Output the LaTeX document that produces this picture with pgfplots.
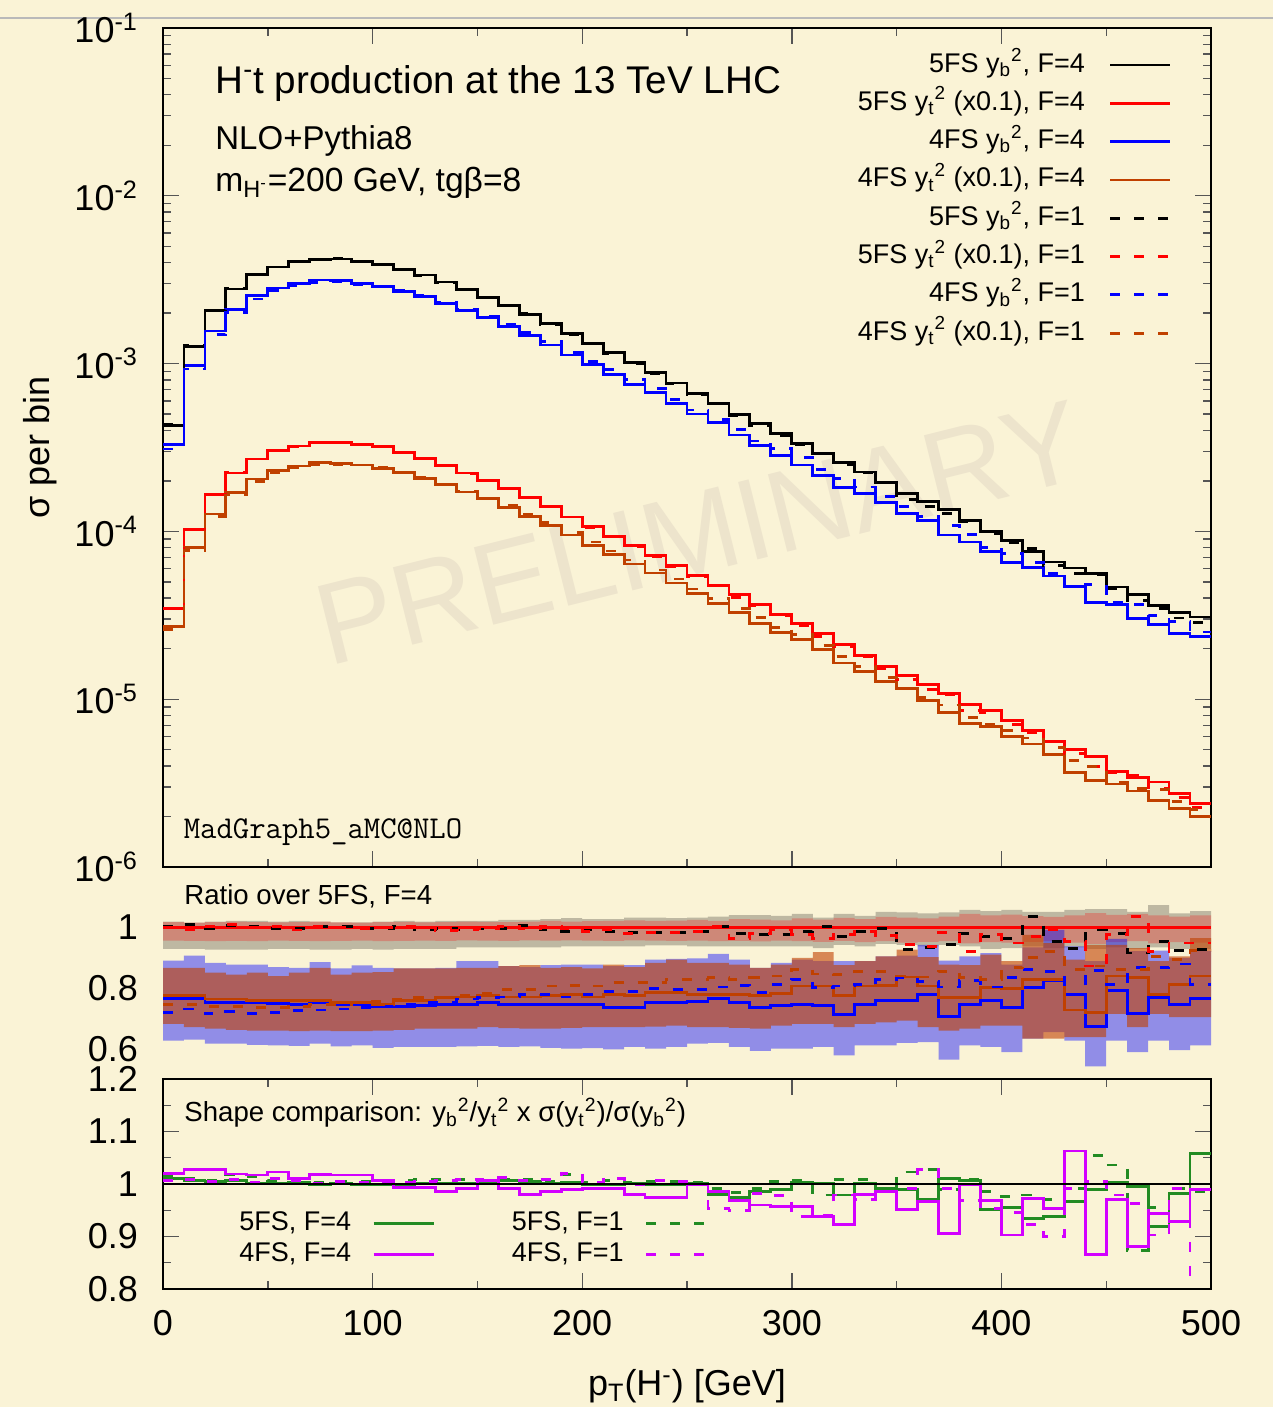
\documentclass[border=0pt]{standalone}
\usepackage{fontspec}
\setmainfont{Liberation Sans}
\usepackage{pgfplots}
\usepackage{pgfplotstable}
\pgfplotsset{compat=1.18}
\usepgfplotslibrary{fillbetween}
\tikzset{fill between/on layer=main}

\definecolor{bg}{RGB}{250,243,214}
\definecolor{wm}{RGB}{237,228,204}
\definecolor{cbrown}{RGB}{192,64,0}
\definecolor{cgreen}{RGB}{34,139,34}
\definecolor{cmag}{RGB}{210,0,255}
\definecolor{tk}{RGB}{85,85,85}

\newcommand{\sub}[1]{\textsubscript{#1}}
\newcommand{\sps}[1]{\textsuperscript{#1}}

% 10 GeV bins, x = left edge; last row repeats the 490-500 bin to close the steps
% b5 = 5FS yb^2 F=4, t5 = 5FS yt^2 (x0.1) F=4, r* = ratios over 5FS F=4
\pgfplotstableread{
x   b5      t5      rb4   rt4   rb5d  rt5d  rb4d  rt4d
0   4.30e-4 3.48e-5 0.766 0.775 1.003 1.000 0.720 0.745
10  1.27e-3 1.03e-4 0.766 0.777 1.011 0.992 0.731 0.745
20  2.08e-3 1.66e-4 0.753 0.764 0.998 1.003 0.715 0.740
30  2.78e-3 2.23e-4 0.753 0.764 1.007 1.009 0.722 0.739
40  3.38e-3 2.70e-4 0.753 0.760 1.003 1.000 0.717 0.736
50  3.77e-3 3.05e-4 0.749 0.758 0.998 1.003 0.720 0.736
60  4.04e-3 3.23e-4 0.745 0.760 0.998 0.992 0.725 0.740
70  4.18e-3 3.37e-4 0.753 0.760 1.003 1.003 0.728 0.745
80  4.20e-3 3.38e-4 0.747 0.753 1.003 1.000 0.731 0.745
90  4.04e-3 3.30e-4 0.745 0.753 0.998 0.998 0.736 0.753
100 3.90e-3 3.19e-4 0.739 0.747 0.998 1.000 0.739 0.755
110 3.64e-3 2.96e-4 0.739 0.758 1.005 1.003 0.747 0.764
120 3.37e-3 2.73e-4 0.742 0.760 0.992 1.000 0.753 0.769
130 3.06e-3 2.48e-4 0.745 0.769 0.998 0.989 0.753 0.769
140 2.77e-3 2.23e-4 0.745 0.771 0.992 0.992 0.764 0.775
150 2.49e-3 2.02e-4 0.753 0.775 0.995 0.998 0.769 0.782
160 2.23e-3 1.80e-4 0.745 0.771 0.998 1.003 0.771 0.796
170 1.97e-3 1.59e-4 0.745 0.771 1.007 0.995 0.780 0.796
180 1.73e-3 1.40e-4 0.747 0.777 0.992 1.003 0.780 0.807
190 1.51e-3 1.22e-4 0.745 0.780 0.987 0.998 0.771 0.810
200 1.32e-3 1.07e-4 0.745 0.771 0.992 0.987 0.780 0.807
210 1.17e-3 9.35e-5 0.736 0.780 0.987 0.992 0.789 0.818
220 1.02e-3 8.26e-5 0.736 0.775 0.985 0.981 0.789 0.818
230 8.89e-4 7.20e-5 0.753 0.785 0.985 0.985 0.798 0.818
240 7.67e-4 6.28e-5 0.753 0.785 0.985 0.985 0.796 0.829
250 6.64e-4 5.47e-5 0.755 0.780 0.987 0.987 0.796 0.829
260 5.78e-4 4.77e-5 0.767 0.780 1.003 1.003 0.804 0.834
270 4.99e-4 4.20e-5 0.753 0.780 0.981 0.965 0.810 0.829
280 4.40e-4 3.66e-5 0.736 0.775 0.976 0.981 0.785 0.834
290 3.83e-4 3.19e-5 0.742 0.782 0.976 0.992 0.813 0.840
300 3.34e-4 2.82e-5 0.745 0.807 0.987 0.976 0.829 0.862
310 2.91e-4 2.46e-5 0.742 0.807 1.003 0.965 0.802 0.847
320 2.57e-4 2.12e-5 0.712 0.775 0.971 0.976 0.807 0.845
330 2.26e-4 1.82e-5 0.745 0.807 0.987 0.987 0.813 0.856
340 1.95e-4 1.57e-5 0.760 0.810 0.998 0.974 0.829 0.854
350 1.68e-4 1.39e-5 0.758 0.837 0.927 0.943 0.834 0.840
360 1.50e-4 1.22e-5 0.778 0.807 0.935 0.938 0.821 0.837
370 1.35e-4 1.08e-5 0.706 0.769 0.943 0.985 0.804 0.856
380 1.16e-4 9.31e-6 0.745 0.769 0.981 0.922 0.824 0.834
390 1.00e-4 8.57e-6 0.758 0.802 0.971 0.976 0.804 0.829
400 8.85e-5 7.48e-6 0.736 0.800 0.965 0.949 0.834 0.867
410 7.60e-5 6.52e-6 0.802 0.829 1.036 0.971 0.862 0.900
420 6.57e-5 5.62e-6 0.826 0.829 0.954 0.992 0.856 0.922
430 6.05e-5 5.00e-6 0.780 0.728 0.930 0.954 0.780 0.862
440 5.60e-5 4.56e-6 0.674 0.720 0.992 0.873 0.858 0.873
450 4.66e-5 3.72e-6 0.791 0.840 0.981 0.976 0.813 0.862
460 4.22e-5 3.40e-6 0.717 0.834 0.916 1.036 0.867 0.862
470 3.62e-5 3.21e-6 0.769 0.778 0.954 0.922 0.869 0.905
480 3.30e-5 2.74e-6 0.747 0.813 0.924 0.949 0.880 0.894
490 3.09e-5 2.38e-6 0.767 0.840 0.927 0.949 0.813 0.924
500 3.09e-5 2.38e-6 0.767 0.840 0.927 0.949 0.813 0.924
}\main

% uncertainty bands of the ratios: grey = 5FS yb2, red = 5FS yt2, blue = 4FS yb2, orange = 4FS yt2
\pgfplotstableread{
x   glo   ghi   rlo   rhi   blo   bhi   olo   ohi
0   0.930 1.020 0.957 1.018 0.627 0.891 0.682 0.867
10  0.930 1.016 0.956 1.016 0.630 0.907 0.671 0.867
20  0.927 1.020 0.955 1.018 0.617 0.883 0.666 0.851
30  0.927 1.022 0.956 1.020 0.617 0.878 0.662 0.845
40  0.927 1.022 0.955 1.018 0.613 0.878 0.660 0.851
50  0.930 1.020 0.957 1.017 0.611 0.869 0.660 0.840
60  0.930 1.022 0.956 1.018 0.609 0.867 0.658 0.851
70  0.927 1.020 0.955 1.020 0.617 0.886 0.660 0.867
80  0.927 1.017 0.956 1.017 0.608 0.865 0.658 0.845
90  0.930 1.017 0.957 1.016 0.611 0.875 0.658 0.851
100 0.927 1.020 0.955 1.018 0.603 0.867 0.660 0.853
110 0.930 1.022 0.956 1.019 0.606 0.865 0.662 0.865
120 0.930 1.020 0.957 1.017 0.606 0.865 0.666 0.865
130 0.930 1.022 0.956 1.018 0.606 0.867 0.666 0.865
140 0.935 1.022 0.958 1.020 0.608 0.889 0.666 0.867
150 0.935 1.022 0.957 1.019 0.609 0.889 0.671 0.867
160 0.935 1.025 0.956 1.018 0.606 0.873 0.668 0.873
170 0.935 1.025 0.958 1.020 0.608 0.869 0.666 0.876
180 0.935 1.028 0.957 1.022 0.603 0.876 0.666 0.867
190 0.938 1.031 0.958 1.020 0.600 0.878 0.669 0.869
200 0.938 1.028 0.957 1.021 0.602 0.878 0.671 0.865
210 0.938 1.028 0.956 1.022 0.598 0.873 0.671 0.878
220 0.938 1.033 0.958 1.024 0.606 0.876 0.671 0.869
230 0.941 1.033 0.957 1.022 0.600 0.894 0.673 0.883
240 0.941 1.031 0.956 1.023 0.606 0.897 0.676 0.894
250 0.938 1.033 0.957 1.025 0.617 0.898 0.671 0.883
260 0.938 1.036 0.955 1.022 0.619 0.913 0.671 0.883
270 0.938 1.041 0.956 1.028 0.606 0.894 0.669 0.878
280 0.938 1.041 0.954 1.026 0.593 0.867 0.666 0.867
290 0.938 1.039 0.957 1.024 0.600 0.883 0.676 0.878
300 0.938 1.045 0.955 1.030 0.600 0.894 0.682 0.900
310 0.932 1.033 0.953 1.026 0.606 0.889 0.682 0.919
320 0.943 1.045 0.956 1.032 0.578 0.889 0.671 0.876
330 0.938 1.039 0.952 1.028 0.611 0.889 0.682 0.889
340 0.946 1.052 0.955 1.035 0.611 0.905 0.687 0.905
350 0.943 1.050 0.950 1.033 0.619 0.907 0.693 0.927
360 0.938 1.047 0.953 1.030 0.622 0.943 0.671 0.902
370 0.943 1.050 0.955 1.036 0.564 0.891 0.660 0.878
380 0.938 1.058 0.948 1.045 0.611 0.905 0.666 0.876
390 0.930 1.054 0.952 1.040 0.606 0.916 0.676 0.911
400 0.932 1.058 0.950 1.043 0.589 0.878 0.676 0.889
410 0.938 1.052 0.953 1.038 0.633 0.935 0.633 0.976
420 0.932 1.052 0.955 1.035 0.655 0.992 0.633 0.949
430 0.935 1.058 0.950 1.040 0.627 0.938 0.638 0.894
440 0.930 1.061 0.946 1.048 0.542 0.889 0.638 0.943
450 0.935 1.061 0.952 1.042 0.627 0.963 0.715 0.943
460 0.930 1.052 0.955 1.045 0.589 0.922 0.671 0.932
470 0.935 1.074 0.948 1.040 0.627 0.924 0.715 0.889
480 0.930 1.047 0.952 1.036 0.595 0.900 0.704 0.905
490 0.930 1.054 0.950 1.040 0.611 0.922 0.704 0.965
500 0.930 1.054 0.950 1.040 0.611 0.922 0.704 0.965
}\bands

% shape comparison
\pgfplotstableread{
x   s5    s4    s5d   s4d
0   1.011 1.020 1.014 1.006
10  1.006 1.028 1.011 1.009
20  1.004 1.028 1.006 1.004
30  1.006 1.019 1.017 1.008
40  1.001 1.017 1.014 1.003
50  1.001 1.023 1.006 1.011
60  1.003 1.011 1.006 1.006
70  0.999 1.018 1.003 1.001
80  1.001 1.017 1.004 1.004
90  0.999 1.017 1.004 1.003
100 0.999 1.006 1.006 1.004
110 0.997 0.993 1.006 1.003
120 1.001 0.993 1.008 1.004
130 1.001 0.985 1.009 1.006
140 1.001 0.992 1.009 1.008
150 1.004 1.006 1.006 1.009
160 1.006 0.992 1.008 1.012
170 1.004 0.980 1.009 1.006
180 1.001 0.985 1.004 1.008
190 1.003 0.989 1.018 1.020
200 0.998 0.992 1.003 1.003
210 0.998 0.991 1.006 1.011
220 1.001 0.980 1.003 0.999
230 0.998 0.974 1.004 1.006
240 0.998 0.974 1.004 1.004
250 1.001 0.998 1.003 0.998
260 0.980 0.985 0.992 0.954
270 0.974 0.968 0.984 0.949
280 0.985 0.960 0.991 0.982
290 0.989 0.957 1.004 0.978
300 1.003 0.957 1.006 0.938
310 1.001 0.938 0.979 0.941
320 0.979 0.923 1.008 0.979
330 1.001 0.980 1.008 0.970
340 0.992 0.985 0.992 0.985
350 0.989 0.951 1.023 0.992
360 0.970 0.966 1.027 1.027
370 1.011 0.906 0.989 0.992
380 1.006 0.998 1.009 0.968
390 0.951 0.968 0.985 0.954
400 0.955 0.903 0.976 0.946
410 0.934 0.973 0.979 0.923
420 0.938 0.954 0.970 0.900
430 0.966 1.063 0.992 0.992
440 0.989 0.866 1.055 1.004
450 1.003 0.970 1.036 0.979
460 0.995 0.881 0.873 0.963
470 0.919 0.944 0.955 0.903
480 0.982 0.928 0.992 0.992
490 1.058 0.989 0.985 0.750
500 1.058 0.989 0.985 0.750
}\shape

\pgfplotsset{
  panel/.style={
    scale only axis, width=524pt, anchor=south west,
    xmin=0, xmax=500,
    xtick={0,100,...,500}, minor xtick={50,150,...,450},
    tick align=inside,
    major tick length=8pt, minor tick length=4pt,
    every tick/.style={tk, line width=0.7pt},
    axis line style={line width=1pt},
    tick label style={font=\fontsize{18}{20}\selectfont},
    yticklabel style={xshift=-9pt},
    every axis plot/.append style={line width=1.4pt},
  },
  steps/.style={const plot mark left, no marks},
  dsh/.style={dash pattern=on 5pt off 7pt},
}

\begin{document}
\begin{tikzpicture}
\fill[bg] (0,0) rectangle (636.5pt,703.5pt);
\draw[gray!55, line width=1pt] (0,694.5pt) -- (636.5pt,694.5pt);
\node[rotate=14, text=wm, font=\fontsize{58}{64}\selectfont] at (349.5pt,437pt) {PRELIMINARY};

% ---- top: sigma per bin ----
\begin{axis}[panel, at={(81.5pt,270pt)}, height=419.5pt,
  ymode=log, ymin=1e-6, ymax=1e-1,
  ytick={1e-6,1e-5,1e-4,1e-3,1e-2,1e-1},
  yticklabels={10\sps{-6},10\sps{-5},10\sps{-4},10\sps{-3},10\sps{-2},10\sps{-1}},
  minor ytick={2e-6,3e-6,4e-6,5e-6,6e-6,7e-6,8e-6,9e-6,
               2e-5,3e-5,4e-5,5e-5,6e-5,7e-5,8e-5,9e-5,
               2e-4,3e-4,4e-4,5e-4,6e-4,7e-4,8e-4,9e-4,
               2e-3,3e-3,4e-3,5e-3,6e-3,7e-3,8e-3,9e-3,
               2e-2,3e-2,4e-2,5e-2,6e-2,7e-2,8e-2,9e-2},
  xticklabel=\empty,
  ylabel={σ per bin},
  ylabel style={font=\fontsize{18}{20}\selectfont, at={(axis description cs:-0.1175,0.5)}, anchor=center},
  legend plot pos=right, legend cell align=right,
  legend style={at={(0.963,0.979)}, anchor=north east, draw=none, fill=none, inner sep=0pt,
    font=\fontsize{13.5}{15}\selectfont,
    nodes={text height=11pt, text depth=4pt, inner sep=2pt}, row sep=0.15pt,
    /tikz/every odd column/.append style={column sep=10pt}},
  legend image code/.code={\draw[#1] (0pt,0pt) -- (30pt,0pt);},
]
\addplot[black, steps] table[x=x, y=b5]{\main};
\addlegendentry{5FS y\sub{b}\sps{2}, F=4}
\addplot[red, steps] table[x=x, y=t5]{\main};
\addlegendentry{5FS y\sub{t}\sps{2} (x0.1), F=4}
\addplot[blue, steps] table[x=x, y expr=\thisrow{b5}*\thisrow{rb4}]{\main};
\addlegendentry{4FS y\sub{b}\sps{2}, F=4}
\addplot[cbrown, steps] table[x=x, y expr=\thisrow{t5}*\thisrow{rt4}]{\main};
\addlegendentry{4FS y\sub{t}\sps{2} (x0.1), F=4}
\addplot[black, steps, dsh] table[x=x, y expr=\thisrow{b5}*\thisrow{rb5d}]{\main};
\addlegendentry{5FS y\sub{b}\sps{2}, F=1}
\addplot[red, steps, dsh] table[x=x, y expr=\thisrow{t5}*\thisrow{rt5d}]{\main};
\addlegendentry{5FS y\sub{t}\sps{2} (x0.1), F=1}
\addplot[blue, steps, dsh] table[x=x, y expr=\thisrow{b5}*\thisrow{rb4d}]{\main};
\addlegendentry{4FS y\sub{b}\sps{2}, F=1}
\addplot[cbrown, steps, dsh] table[x=x, y expr=\thisrow{t5}*\thisrow{rt4d}]{\main};
\addlegendentry{4FS y\sub{t}\sps{2} (x0.1), F=1}
\end{axis}

% ---- middle: ratio over 5FS, F=4 ----
\begin{axis}[panel, at={(81.5pt,164pt)}, height=106pt,
  ymin=0.5, ymax=1.2,
  ytick={0.6,0.8,1}, yticklabels={0.6,0.8,1}, minor ytick={0.7,0.9,1.1},
  xticklabel=\empty,
]
\addplot[name path=glo, draw=none, steps] table[x=x, y=glo]{\bands};
\addplot[name path=ghi, draw=none, steps] table[x=x, y=ghi]{\bands};
\addplot[name path=rlo, draw=none, steps] table[x=x, y=rlo]{\bands};
\addplot[name path=rhi, draw=none, steps] table[x=x, y=rhi]{\bands};
\addplot[name path=blo, draw=none, steps] table[x=x, y=blo]{\bands};
\addplot[name path=bhi, draw=none, steps] table[x=x, y=bhi]{\bands};
\addplot[name path=olo, draw=none, steps] table[x=x, y=olo]{\bands};
\addplot[name path=ohi, draw=none, steps] table[x=x, y=ohi]{\bands};
\addplot[fill=black, fill opacity=0.24, draw=none] fill between[of=glo and ghi];
\addplot[fill=red, fill opacity=0.26, draw=none] fill between[of=rlo and rhi];
\addplot[fill=blue, fill opacity=0.42, draw=none] fill between[of=blo and bhi];
\addplot[fill=cbrown, fill opacity=0.6, draw=none] fill between[of=olo and ohi];
\addplot[black, steps] coordinates {(0,1) (500,1)};
\addplot[red, steps] coordinates {(0,1) (500,1)};
\addplot[blue, steps] table[x=x, y=rb4]{\main};
\addplot[cbrown, steps] table[x=x, y=rt4]{\main};
\addplot[black, steps, dsh] table[x=x, y=rb5d]{\main};
\addplot[red, steps, dsh] table[x=x, y=rt5d]{\main};
\addplot[blue, steps, dsh] table[x=x, y=rb4d]{\main};
\addplot[cbrown, steps, dsh] table[x=x, y=rt4d]{\main};
\end{axis}

% ---- bottom: shape comparison ----
\begin{axis}[panel, at={(81.5pt,59pt)}, height=105pt,
  ymin=0.8, ymax=1.2,
  ytick={0.8,0.9,1,1.1,1.2}, yticklabels={0.8,0.9,1,1.1,1.2},
  minor ytick={0.85,0.95,1.05,1.15},
  xticklabels={0,100,200,300,400,500},
  xticklabel style={yshift=-7pt},
  xlabel={p\sub{T}(H\sps{-}) [GeV]},
  xlabel style={font=\fontsize{18}{20}\selectfont, at={(axis description cs:0.5,-0.465)}, anchor=center},
  legend columns=2, legend plot pos=right, legend cell align=right,
  legend style={at={(0.52,0.388)}, anchor=north east, draw=none, fill=none, inner sep=0pt,
    font=\fontsize{13.5}{15}\selectfont,
    nodes={text height=11pt, text depth=3.5pt, inner sep=0.5pt}, row sep=0pt,
    /tikz/every odd column/.append style={column sep=10pt},
    /tikz/every even column/.append style={column sep=38pt}},
  legend image code/.code={\draw[#1] (0pt,0pt) -- (30pt,0pt);},
]
\addplot[cgreen, steps] table[x=x, y=s5]{\shape};
\addlegendentry{5FS, F=4}
\addplot[cgreen, steps, dsh] table[x=x, y=s5d]{\shape};
\addlegendentry{5FS, F=1}
\addplot[cmag, steps] table[x=x, y=s4]{\shape};
\addlegendentry{4FS, F=4}
\addplot[cmag, steps, dsh] table[x=x, y=s4d]{\shape};
\addlegendentry{4FS, F=1}
\addplot[black, forget plot] coordinates {(0,1) (500,1)};
\end{axis}

% ---- annotations ----
\node[anchor=base west, inner sep=0pt, font=\fontsize{19.3}{22}\selectfont] at (107.5pt,656.8pt) {H\sps{-}t production at the 13 TeV LHC};
\node[anchor=base west, inner sep=0pt, font=\fontsize{16.5}{19}\selectfont] at (107.5pt,628.5pt) {NLO+Pythia8};
\node[anchor=base west, inner sep=0pt, font=\fontsize{16.8}{19}\selectfont] at (107.5pt,607.5pt) {m\sub{H\sps{-}}=200 GeV, tgβ=8};
\node[anchor=base west, inner sep=0pt, font=\ttfamily\fontsize{15.9}{18}\selectfont] at (91.7pt,284pt) {MadGraph5\_aMC@NLO};
\node[anchor=base west, inner sep=0pt, font=\fontsize{13.8}{16}\selectfont] at (92pt,251pt) {Ratio over 5FS, F=4};
\node[anchor=base west, inner sep=0pt, font=\fontsize{13.8}{16}\selectfont] at (92pt,142.5pt) {Shape comparison: y\sub{b}\sps{2}/y\sub{t}\sps{2} x σ(y\sub{t}\sps{2})/σ(y\sub{b}\sps{2})};

\pgfresetboundingbox
\useasboundingbox (0,0) rectangle (636.5pt,703.5pt);
\end{tikzpicture}
\end{document}
